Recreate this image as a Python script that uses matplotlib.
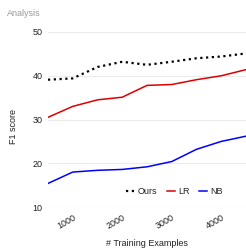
import matplotlib
matplotlib.use('Agg')
import matplotlib.pyplot as plt

plt.rcParams['font.family'] = ['Liberation Sans', 'DejaVu Sans']

# training examples
examples = [500, 1000, 1500, 2000, 2500, 3000, 3500, 4000, 4500]
# F1 scores
ours = [39.1, 39.4, 42.0, 43.2, 42.5, 43.2, 44.0, 44.4, 45.1]
lr = [30.5, 33.0, 34.5, 35.1, 37.8, 38.0, 39.1, 40.0, 41.4]
nb = [15.4, 18.0, 18.4, 18.6, 19.2, 20.4, 23.2, 25.0, 26.2]

xticks = [1000, 2000, 3000, 4000]
yticks = [10, 20, 30, 40, 50]

fig = plt.figure(figsize=(2.46, 2.48), dpi=100)
ax = fig.add_axes([0.195, 0.165, 0.805, 0.706])

ax.plot(examples, ours, color='black', linestyle=(0, (1, 1.6)), linewidth=1.6, label='Ours')
ax.plot(examples, lr, color='#dd0000', linewidth=1.1, label='LR')
ax.plot(examples, nb, color='#0000ff', linewidth=1.1, label='NB')

ax.set_xlim(500, 4500)
ax.set_ylim(10, 50)
ax.set_xticks(xticks)
ax.set_yticks(yticks)
ax.set_xticklabels([str(v) for v in xticks], rotation=30, ha='right', rotation_mode='anchor')
ax.tick_params(axis='both', length=0, labelsize=6.5, colors='#222222')
ax.tick_params(axis='x', pad=4)
ax.tick_params(axis='y', pad=4)
for s in ax.spines.values():
    s.set_visible(False)
ax.grid(axis='y', color='#ebebeb', linewidth=0.8)
ax.set_axisbelow(True)

ax.set_xlabel('# Training Examples', fontsize=6.5, color='#222222')
ax.xaxis.set_label_coords(0.5, -0.18)
ax.set_ylabel('F1 score', fontsize=6.5, color='#222222')
ax.yaxis.set_label_coords(-0.15, 0.46)
fig.text(0.028, 0.945, 'Analysis', fontsize=6.5, color='#999999', ha='left', va='center')

ax.legend(loc='center', bbox_to_anchor=(0.64, 0.09), ncol=3, frameon=False, fontsize=6.5,
          handlelength=0.9, handletextpad=0.4, columnspacing=1.0, labelcolor='#222222')

fig.savefig('out.png', dpi=100)
